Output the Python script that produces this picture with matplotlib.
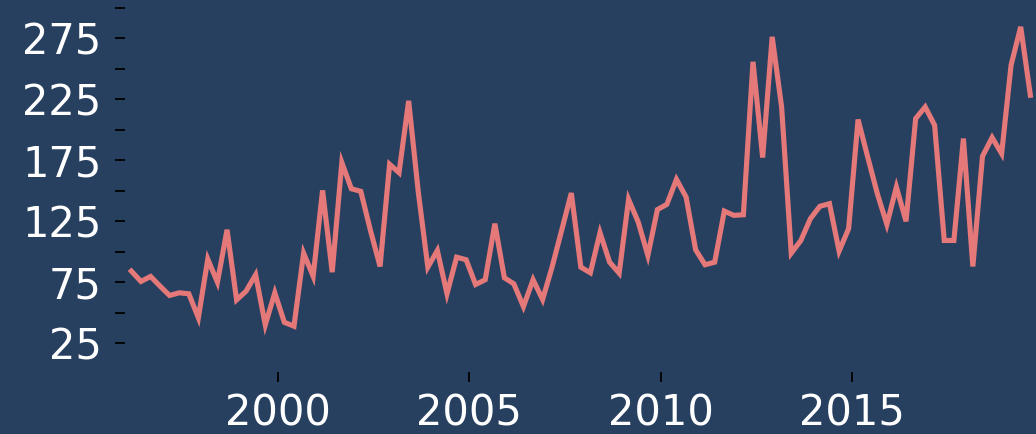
import numpy as np
import pandas as pd
import matplotlib
matplotlib.use("Agg")
import matplotlib.pyplot as plt
import matplotlib.dates as mdates

# ---------------------------------------------------------------------------
# Data (quarterly)
# ---------------------------------------------------------------------------
START = "1996-03-01"
values = [
    84.2, 75.7, 79.8, 71.8, 64.2, 66.4, 65.6, 45.9, 94.0, 75.1,
    118.1, 60.6, 67.7, 81.2, 40.1, 66.4, 42.2, 39.0, 98.9, 80.0,
    150.4, 83.3, 173.2, 151.7, 149.6, 117.6, 88.0, 171.8, 164.9, 223.8,
    149.0, 87.4, 101.1, 65.6, 95.6, 93.5, 73.2, 77.1, 123.1, 78.7,
    73.8, 55.1, 77.1, 60.9, 87.4, 117.6, 148.2, 87.4, 82.8, 115.7,
    91.5, 82.5, 143.0, 124.4, 97.0, 134.6, 138.9, 159.4, 144.9, 101.7,
    89.4, 91.5, 133.4, 129.9, 130.4, 255.8, 177.3, 276.3, 218.8, 98.9,
    109.3, 127.2, 137.3, 139.5, 100.6, 119.0, 208.5, 177.8, 147.7, 122.5,
    153.1, 125.0, 209.3, 218.8, 203.8, 109.3, 109.3, 192.9, 88.0, 178.3,
    193.7, 180.5, 253.1, 284.5, 228.4,
]
dates = pd.date_range(START, periods=len(values), freq="3MS")

y_ticks = np.arange(25, 301, 25)
y_labels = [str(v) if v % 50 == 25 else "" for v in y_ticks]

# ---------------------------------------------------------------------------
# Style
# ---------------------------------------------------------------------------
BG = "#274060"
LINE = "#e57878"
TXT = "white"

fig = plt.figure(figsize=(10.36, 4.34), dpi=100, facecolor=BG)
ax = fig.add_axes([0.1207, 0.143, 0.8793, 0.857], facecolor=BG)

ax.plot(dates, values, color=LINE, lw=3.7, solid_joinstyle="miter")

ax.set_xlim(pd.Timestamp("1996-01-01"), pd.Timestamp("2019-10-25"))
ax.set_ylim(1.5, 306.5)

ax.xaxis.set_major_locator(mdates.YearLocator(5))
ax.xaxis.set_major_formatter(mdates.DateFormatter("%Y"))
ax.set_yticks(y_ticks)
ax.set_yticklabels(y_labels)

for spine in ax.spines.values():
    spine.set_visible(False)

ax.tick_params(axis="both", colors="black", labelcolor=TXT,
               labelsize=30, length=7, width=1.3, direction="out")
ax.tick_params(axis="y", pad=10)
ax.tick_params(axis="x", pad=8)

fig.savefig("out.png", dpi=100, facecolor=BG)
